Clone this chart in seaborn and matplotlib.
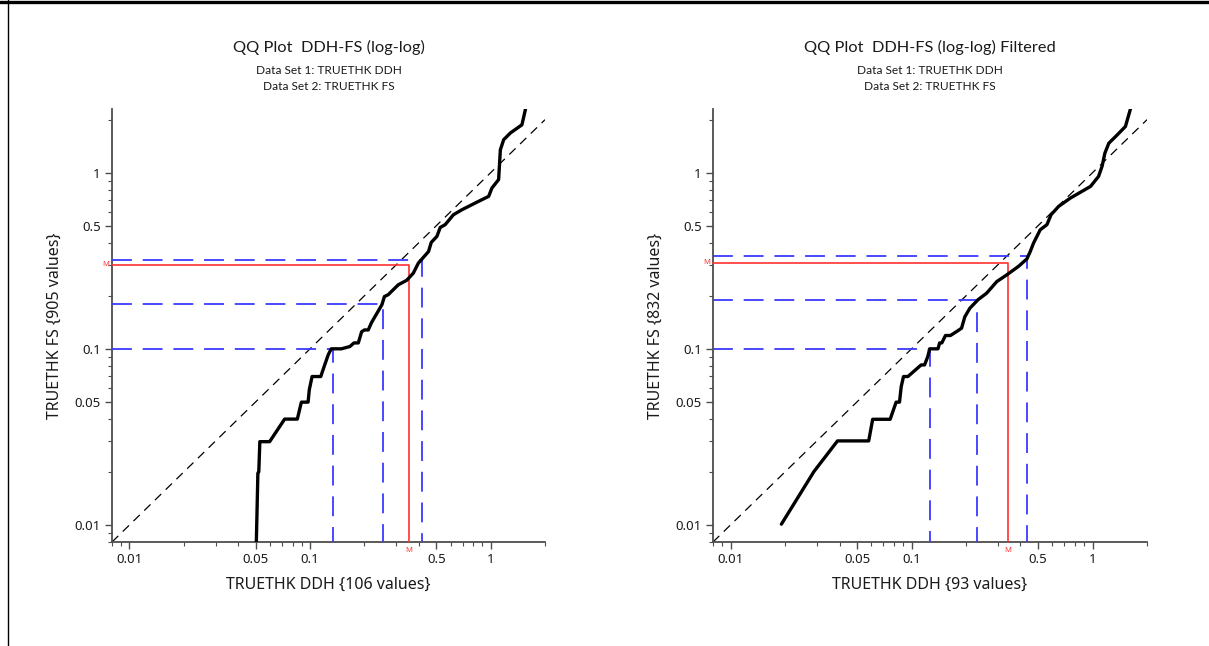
import numpy as np
import pandas as pd
import matplotlib
matplotlib.use("Agg")
import matplotlib.pyplot as plt
from matplotlib.lines import Line2D
from matplotlib.ticker import FixedLocator, LogLocator, NullFormatter, FuncFormatter
import seaborn as sns

# ---- QQ curve, all data (DDH quantile vs FS quantile) ----
ddh_all = [0.0500, 0.0504, 0.0514, 0.0520, 0.0527, 0.0597, 0.0723, 0.0850, 0.0895,
           0.0975, 0.0990, 0.1026, 0.1146, 0.1197, 0.1215, 0.1260, 0.1310, 0.1490,
           0.1660, 0.1750, 0.1850, 0.1930, 0.2000, 0.2100, 0.2190, 0.2500, 0.2580,
           0.2710, 0.3080, 0.3430, 0.3730, 0.3980, 0.4160, 0.4530, 0.4690, 0.5040,
           0.5260, 0.5600, 0.6220, 0.6930, 0.8220, 0.9750, 1.0170, 1.1070, 1.1320,
           1.1810, 1.2850, 1.4900, 1.5600]
fs_all = [0.0060, 0.0080, 0.0197, 0.0200, 0.0297, 0.0297, 0.0399, 0.0399, 0.0498,
          0.0498, 0.0585, 0.0696, 0.0696, 0.0794, 0.0830, 0.0924, 0.1000, 0.1000,
          0.1030, 0.1080, 0.1080, 0.1250, 0.1280, 0.1280, 0.1410, 0.1780, 0.1980,
          0.2030, 0.2310, 0.2450, 0.2690, 0.3070, 0.3230, 0.3570, 0.4020, 0.4350,
          0.4890, 0.5070, 0.5770, 0.6160, 0.6730, 0.7340, 0.8190, 0.9140, 1.3500,
          1.5400, 1.6800, 1.8700, 2.3000]

# ---- QQ curve, filtered data ----
ddh_filt = [0.0191, 0.0289, 0.0390, 0.0580, 0.0610, 0.0762, 0.0822, 0.0858, 0.0877,
            0.0903, 0.0955, 0.1130, 0.1180, 0.1230, 0.1260, 0.1400, 0.1430, 0.1470,
            0.1540, 0.1640, 0.1810, 0.1890, 0.1970, 0.2100, 0.2330, 0.2600, 0.2960,
            0.3360, 0.3900, 0.4340, 0.4530, 0.4720, 0.5140, 0.5600, 0.5900, 0.6500,
            0.7550, 0.9750, 1.0800, 1.1300, 1.1700, 1.2300, 1.3700, 1.5200, 1.6200]
fs_filt = [0.0101, 0.0201, 0.0300, 0.0300, 0.0398, 0.0398, 0.0498, 0.0498, 0.0610,
           0.0696, 0.0696, 0.0810, 0.0810, 0.0904, 0.1000, 0.1000, 0.1080, 0.1080,
           0.1190, 0.1190, 0.1270, 0.1310, 0.1520, 0.1700, 0.1900, 0.2070, 0.2410,
           0.2630, 0.2940, 0.3240, 0.3570, 0.3980, 0.4740, 0.5070, 0.5770, 0.6440,
           0.7180, 0.8360, 0.9530, 1.0900, 1.2900, 1.4700, 1.6400, 1.8300, 2.3000]

# ---- reference quantile markers (blue dashed) and medians (red) ----
q_ddh_all = [0.134, 0.253, 0.416]
q_fs_all = [0.100, 0.180, 0.320]
med_all = (0.353, 0.300)

q_ddh_filt = [0.126, 0.230, 0.435]
q_fs_filt = [0.100, 0.190, 0.338]
med_filt = (0.340, 0.308)

titles = ["QQ Plot  DDH-FS (log-log)", "QQ Plot  DDH-FS (log-log) Filtered"]
subtitles = ["Data Set 1: TRUETHK DDH", "Data Set 2: TRUETHK FS"]
xlabels = ["TRUETHK DDH {106 values}", "TRUETHK DDH {93 values}"]
ylabels = ["TRUETHK FS {905 values}", "TRUETHK FS {832 values}"]
major_ticks = [0.01, 0.05, 0.1, 0.5, 1]

XLIM = (0.008, 2.0)
YLIM = (0.008, 2.3)

sns.set_theme(style="ticks")
plt.rcParams["font.family"] = ["Noto Sans", "DejaVu Sans"]

W, H = 1209, 646
fig = plt.figure(figsize=(W / 100, H / 100), dpi=100)

axes_px = [(112, 109, 545, 542), (713, 109, 1147, 542)]
datasets = [
    (ddh_all, fs_all, q_ddh_all, q_fs_all, med_all),
    (ddh_filt, fs_filt, q_ddh_filt, q_fs_filt, med_filt),
]

AXC = "#4d4d4d"
BLUE = "#3a3aff"
RED = "#ff3030"

def fmt(v, _pos):
    return f"{v:g}"

for i, ((x0, y0, x1, y1), (dx, dy, qx, qy, med)) in enumerate(zip(axes_px, datasets)):
    ax = fig.add_axes([x0 / W, 1 - y1 / H, (x1 - x0) / W, (y1 - y0) / H])
    ax.set_xscale("log")
    ax.set_yscale("log")
    ax.set_xlim(*XLIM)
    ax.set_ylim(*YLIM)

    # y = x reference line
    ax.plot([XLIM[0], XLIM[1]], [XLIM[0], XLIM[1]], color="black", lw=0.9,
            dashes=(7, 5), zorder=2)

    # quantile guides
    for qxv, qyv in zip(qx, qy):
        ax.plot([XLIM[0], qxv, qxv], [qyv, qyv, YLIM[0]], color=BLUE, lw=1.3,
                dashes=(11, 6), zorder=3, clip_on=False)
    # median guide
    ax.plot([XLIM[0], med[0], med[0]], [med[1], med[1], YLIM[0]], color=RED,
            lw=1.2, zorder=3, clip_on=False)
    ax.text(XLIM[0], med[1], "M ", color=RED, fontsize=5.5, ha="right",
            va="center")
    ax.text(med[0], YLIM[0], "\nM", color=RED, fontsize=5.5, ha="center",
            va="top", linespacing=0.6)

    df = pd.DataFrame({"ddh": dx, "fs": dy})
    sns.lineplot(data=df, x="ddh", y="fs", sort=False, estimator=None,
                 color="black", lw=2.4, ax=ax, zorder=4)

    ax.set_xlim(*XLIM)
    ax.set_ylim(*YLIM)

    for axis in (ax.xaxis, ax.yaxis):
        axis.set_major_locator(FixedLocator(major_ticks))
        axis.set_major_formatter(FuncFormatter(fmt))
        axis.set_minor_locator(LogLocator(base=10, subs=np.arange(2, 10)))
        axis.set_minor_formatter(NullFormatter())

    sns.despine(ax=ax)
    for s in ("left", "bottom"):
        ax.spines[s].set_color(AXC)
        ax.spines[s].set_linewidth(1.3)
    ax.tick_params(which="major", direction="out", length=5, width=1,
                   color=AXC, labelsize=9.5, labelcolor="#1a1a1a", pad=3)
    ax.tick_params(which="minor", direction="out", length=3, width=0.8,
                   color=AXC)

    ax.set_xlabel("")
    ax.set_ylabel("")
    ax.text(0.5, -0.099, xlabels[i], transform=ax.transAxes, ha="center",
            va="center", fontsize=11.5, color="#1a1a1a")
    ax.text(-0.132, 0.5, ylabels[i], transform=ax.transAxes, ha="center",
            va="center", rotation=90, fontsize=11.5, color="#1a1a1a")

    ax.text(0.5, 1.143, titles[i], transform=ax.transAxes, ha="center",
            va="center", fontsize=11.8, family=["Lato", "DejaVu Sans"],
            color="#1a1a1a")
    ax.text(0.5, 1.088, subtitles[0], transform=ax.transAxes, ha="center",
            va="center", fontsize=8.6, family=["Lato", "DejaVu Sans"],
            color="#1a1a1a")
    ax.text(0.5, 1.051, subtitles[1], transform=ax.transAxes, ha="center",
            va="center", fontsize=8.6, family=["Lato", "DejaVu Sans"],
            color="#1a1a1a")

# page frame: heavy top rule and thin left rule
fig.add_artist(Line2D([0, 1], [1 - 1.5 / H, 1 - 1.5 / H], color="black", lw=2.4,
                      transform=fig.transFigure))
fig.add_artist(Line2D([8 / W, 8 / W], [0, 1], color="black", lw=1.0,
                      transform=fig.transFigure))

fig.savefig("out.png", dpi=100)
